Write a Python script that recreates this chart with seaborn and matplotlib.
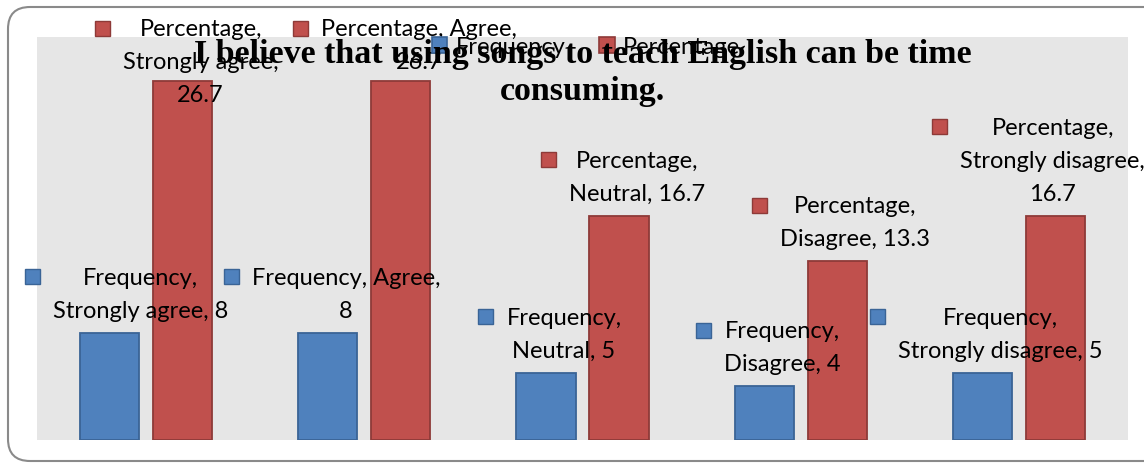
import numpy as np
import pandas as pd
import seaborn as sns
import matplotlib
matplotlib.use("Agg")
import matplotlib.pyplot as plt
from matplotlib.patches import FancyBboxPatch, Rectangle
from matplotlib.transforms import IdentityTransform

# ---------------- data ----------------
categories = ["Strongly agree", "Agree", "Neutral", "Disagree", "Strongly disagree"]
series_names = ["Frequency", "Percentage"]
frequency = [8, 8, 5, 4, 5]
percentage = [26.7, 26.7, 16.7, 13.3, 16.7]
title_text = "I believe that using songs to teach English can be time\nconsuming."
# how each data label wraps (separator after series name, separator after category)
freq_wrap = [("\n", " "), (" ", "\n"), ("\n", " "), ("\n", " "), ("\n", " ")]
perc_wrap = [("\n", "\n"), (" ", "\n"), ("\n", " "), ("\n", " "), ("\n", "\n")]

fill_colors = ["#4F81BD", "#C0504D"]
edge_colors = ["#3A6496", "#8E3A38"]

df = pd.DataFrame({
    "Category": categories * 2,
    "Series": [series_names[0]] * len(categories) + [series_names[1]] * len(categories),
    "Value": frequency + percentage,
})

sns.set_theme(style="white")
LABEL_FONT = ["Lato", "DejaVu Sans"]
plt.rcParams["font.family"] = LABEL_FONT
plt.rcParams["text.color"] = "black"

W, H = 1144, 464
fig = plt.figure(figsize=(W / 100, H / 100), dpi=100)
fig.patch.set_facecolor("white")

ax = fig.add_axes([37 / W, (H - 441) / H, (1128 - 37) / W, (441 - 38) / H])
ax.set_facecolor("#E6E6E6")

sns.barplot(data=df, x="Category", y="Value", hue="Series", order=categories,
            hue_order=series_names, palette=fill_colors, saturation=1,
            width=0.67, gap=0.19, legend=False, ax=ax, errorbar=None)

for cont, ec in zip(ax.containers, edge_colors):
    for p in cont:
        p.set_edgecolor(ec)
        p.set_linewidth(1.3)

ax.set_ylim(0, 30)
ax.set_xlim(-0.5, len(categories) - 0.5)
for s in ax.spines.values():
    s.set_visible(False)
ax.set_xticks([])
ax.set_yticks([])
ax.set_xlabel("")
ax.set_ylabel("")

# legend
handles = [Rectangle((0, 0), 1, 1, fc=fc, ec=ec, lw=1.2) for fc, ec in zip(fill_colors, edge_colors)]
ax.legend(handles, series_names, loc="center", bbox_to_anchor=(586 / W, 1 - 48 / H),
          bbox_transform=fig.transFigure, ncol=2, frameon=False, fontsize=17,
          handlelength=0.65, handleheight=0.65, handletextpad=0.35, columnspacing=1.45,
          labelcolor="black")

# data labels
PX = 72 / 100.0  # points per pixel
label_fs = 17
anns = []
for si, (cont, vals, wraps) in enumerate(zip(ax.containers, [frequency, percentage], [freq_wrap, perc_wrap])):
    for p, cat, v, (s1, s2) in zip(cont, categories, vals, wraps):
        txt = f"{series_names[si]},{s1}{cat},{s2}{v:g}"
        x = p.get_x() + p.get_width() / 2
        a = ax.annotate(txt, xy=(x, p.get_height()), xytext=(18 * PX, 12 * PX),
                        textcoords="offset points", ha="center", va="bottom",
                        multialignment="center", fontsize=label_fs, linespacing=1.7,
                        color="black", annotation_clip=False, zorder=5)
        anns.append((a, si))

fig.canvas.draw()
r = fig.canvas.get_renderer()
for a, si in anns:
    bb = a.get_window_extent(r)
    dx = dy = 0.0
    if bb.x0 - 28 < 25:
        dx = 25 - (bb.x0 - 28)
    if bb.x1 > 1145:
        dx = 1145 - bb.x1
    if bb.y1 > H - 19:
        dy = (H - 19) - bb.y1
    ox, oy = a.xyann
    a.xyann = (ox + dx * PX, oy + dy * PX)

fig.canvas.draw()
for a, si in anns:
    bb = a.get_window_extent(r)
    kx = bb.x0 - 13 - 15
    ky = bb.y1 - 10 - 7.5
    fig.add_artist(Rectangle((kx, ky), 15, 15, fc=fill_colors[si], ec=edge_colors[si], lw=1.0,
                             transform=IdentityTransform(), zorder=2))

# title (drawn over legend / labels)
fig.text(582.5 / W, 1 - 73 / H, title_text, ha="center", va="center",
         fontfamily=["Liberation Serif"], fontweight="bold", fontsize=24.5,
         linespacing=1.22, color="black", zorder=10)

# rounded chart border
border = FancyBboxPatch((8, 2), 1170, 454, boxstyle="round,pad=0,rounding_size=22",
                        fc="none", ec="#8A8A8A", lw=1.5, transform=IdentityTransform(), zorder=0)
fig.add_artist(border)

fig.savefig("out.png", dpi=100)
